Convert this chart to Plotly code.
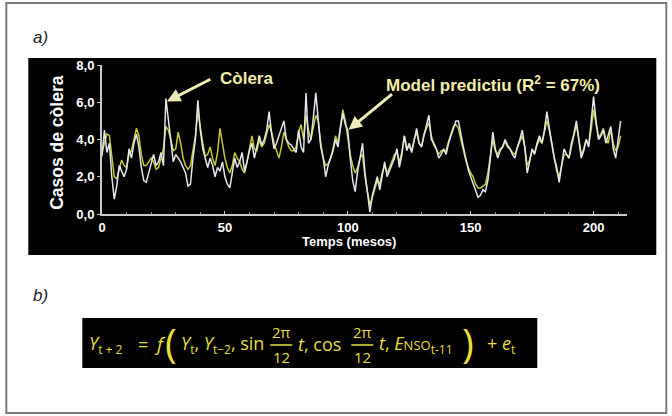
import plotly.graph_objects as go

months = list(range(0, 212))

observed = [
    3.1, 4.5, 3.3, 3.8, 2.0, 0.8, 1.5, 2.6, 2.3, 2.0,
    2.4, 3.5, 3.0, 3.8, 4.3, 3.6, 2.5, 1.8, 1.7, 2.2,
    2.6, 3.2, 2.6, 2.8, 3.3, 2.6, 6.2, 5.0, 4.0, 2.8,
    3.2, 3.0, 2.8, 2.5, 2.2, 1.5, 1.6, 3.0, 4.0, 6.1,
    4.5, 3.5, 3.0, 2.5, 3.0, 2.6, 2.0, 2.5, 2.3, 2.8,
    2.0, 1.6, 1.4, 2.2, 3.0, 2.5, 2.8, 3.3, 2.3, 2.8,
    3.4, 3.8, 3.0, 3.6, 4.2, 3.7, 4.0, 4.5, 5.5, 4.3,
    3.5, 3.8, 4.2, 4.6, 5.0, 4.0, 3.8, 3.7, 3.5, 3.3,
    4.5, 3.6, 3.3, 6.5, 3.8, 4.0, 5.2, 6.5, 5.0, 3.6,
    3.0, 2.0, 2.6, 3.0, 3.4, 4.0, 3.6, 4.6, 5.4, 4.8,
    4.5, 3.0, 1.8, 1.2, 2.3, 3.0, 3.8, 2.2, 1.0, 0.1,
    1.0, 1.5, 2.0, 1.3, 2.0, 2.8, 2.0, 2.3, 2.6, 3.0,
    3.5, 2.5, 3.2, 4.2, 3.4, 3.8, 3.3, 4.0, 4.6, 3.8,
    3.6, 4.2, 4.8, 5.3, 4.0, 3.8, 3.5, 3.0, 3.2, 3.5,
    3.2, 3.8, 4.2, 4.6, 5.0, 5.0, 4.2, 3.6, 3.0, 2.4,
    2.0, 1.6, 1.2, 0.9, 1.0, 1.3, 1.2, 1.8, 3.0, 4.4,
    3.5, 3.0, 3.4, 3.6, 4.0, 3.7, 3.5, 3.2, 3.0, 3.6,
    4.0, 4.5, 3.6, 2.2, 2.8, 3.5, 3.2, 3.8, 4.2, 3.8,
    4.5, 5.5, 4.6, 3.8, 3.0, 2.5, 1.7, 2.6, 3.5, 3.2,
    3.0, 3.8, 4.3, 5.0, 4.0, 3.0, 3.4, 4.0, 3.6, 4.8,
    6.3, 5.0, 4.0, 4.2, 4.5, 3.8, 4.2, 4.7, 3.5, 3.0,
    4.0, 5.0,
]

predicted = [
    3.3, 3.8, 4.3, 4.2, 3.0, 2.0, 1.9, 2.4, 2.9, 2.6,
    2.5, 3.2, 3.4, 4.0, 4.6, 4.2, 3.2, 2.6, 2.6, 2.8,
    3.0, 2.8, 2.4, 2.5, 3.0, 3.5, 4.7, 4.5, 4.0, 3.4,
    3.5, 4.4, 3.8, 3.0, 2.6, 2.4, 2.6, 3.3, 4.2, 5.5,
    4.6, 3.8, 3.1, 3.2, 3.6, 3.0, 2.6, 3.3, 4.6, 3.8,
    3.0, 2.5, 2.2, 2.6, 3.3, 3.0, 2.8, 2.4, 2.2, 2.8,
    3.6, 4.2, 3.5, 3.4, 4.0, 3.6, 3.8, 4.3, 4.8, 4.4,
    3.8, 3.4, 3.0, 3.6, 4.4, 4.0, 3.6, 3.4, 3.4, 3.6,
    4.4, 4.8, 4.0, 5.3, 4.5, 4.0, 4.6, 5.3, 5.0, 3.8,
    3.0, 2.6, 2.7, 3.0, 3.5, 4.2, 3.8, 4.6, 5.6, 5.0,
    4.0, 3.2, 2.6, 2.2, 2.5, 3.0, 3.2, 2.0, 1.2, 0.5,
    0.9, 1.4, 1.8, 1.6, 2.2, 2.6, 2.2, 2.5, 2.8, 3.2,
    3.3, 2.8, 3.3, 4.2, 3.6, 3.6, 3.4, 4.0, 4.4, 3.8,
    3.6, 4.3, 4.6, 4.9, 4.2, 3.7, 3.5, 3.2, 3.4, 3.4,
    3.4, 3.9, 4.3, 4.7, 4.8, 4.6, 4.0, 3.4, 2.9, 2.5,
    2.2, 2.0, 1.6, 1.4, 1.4, 1.5, 1.6, 2.2, 3.0, 4.0,
    3.4, 3.2, 3.5, 3.6, 3.9, 3.6, 3.5, 3.3, 3.2, 3.5,
    3.9, 4.2, 3.6, 2.6, 2.9, 3.4, 3.3, 3.7, 4.0, 3.8,
    4.4, 5.0, 4.5, 3.8, 3.0, 2.3, 2.0, 2.6, 3.2, 3.2,
    3.0, 3.6, 4.2, 4.8, 4.0, 3.2, 3.5, 4.0, 3.7, 4.5,
    5.6, 4.9, 4.1, 4.3, 4.6, 4.0, 3.8, 4.6, 3.8, 3.4,
    3.6, 4.2,
]

x_ticks = [0, 50, 100, 150, 200]
y_ticks = [0, 2, 4, 6, 8]
y_tick_labels = ["0,0", "2,0", "4,0", "6,0", "8,0"]

# ---- layout geometry (pixels) ----
W, H = 672, 416
PL, PR, PT, PB = 101.7, 626.7, 65.0, 214.0   # plot area


def px(xp):
    return (xp - PL) / (PR - PL)


def py(yp):
    return (PB - yp) / (PB - PT)


FONT = "Liberation Sans, Arial, Helvetica, sans-serif"
EQ_FONT = "Open Sans, Lato, sans-serif"
PALE = "#f2eeaa"
EQ_COL = "#e6df3c"

fig = go.Figure()
fig.add_trace(go.Scatter(x=months, y=predicted, mode="lines",
                         line=dict(color="#c5c832", width=1.5),
                         name="Model predictiu", hoverinfo="skip"))
fig.add_trace(go.Scatter(x=months, y=observed, mode="lines",
                         line=dict(color="#e4e6ee", width=1.5),
                         name="Còlera", hoverinfo="skip"))

shapes = [
    # outer frame
    dict(type="rect", xref="paper", yref="paper",
         x0=px(6), x1=px(666), y0=py(413), y1=py(3),
         line=dict(color="#7a7a7a", width=2), fillcolor="rgba(0,0,0,0)", layer="below"),
    # black chart panel
    dict(type="rect", xref="paper", yref="paper",
         x0=px(28), x1=px(656), y0=py(255), y1=py(58),
         line=dict(color="#000000", width=0), fillcolor="#000000", layer="below"),
    # equation panel
    dict(type="rect", xref="paper", yref="paper",
         x0=px(82), x1=px(537), y0=py(368), y1=py(318),
         line=dict(color="#000000", width=0), fillcolor="#000000", layer="below"),
]

annotations = []


def txt(text, x, y, size, color, family=FONT, xanchor="center", yanchor="middle", angle=0):
    annotations.append(dict(text=text, x=px(x), y=py(y), xref="paper", yref="paper",
                            showarrow=False, xanchor=xanchor, yanchor=yanchor,
                            textangle=angle,
                            font=dict(size=size, color=color, family=family)))


# panel labels
txt("<i>a)</i>", 31, 37, 17, "#222222", xanchor="left")
txt("<i>b)</i>", 31, 295, 17, "#222222", xanchor="left")

# axis titles
txt("<b>Casos de còlera</b>", 56.5, 142, 17.5, "#ffffff", angle=-90)
txt("<b>Temps (mesos)</b>", 349, 241, 13, "#ffffff")

# callouts
txt("<b>Còlera</b>", 246, 78, 17, PALE)
txt("<b>Model predictiu (R<sup>2</sup> = 67%)</b>", 493, 84, 17, PALE)

# arrows (text empty, tip at data point)
annotations.append(dict(x=26.4, y=6.04, xref="x", yref="y", text="", showarrow=True,
                        ax=45, ay=-23, arrowhead=2, arrowsize=0.9, arrowwidth=3,
                        arrowcolor="#ececb4"))
annotations.append(dict(x=100.3, y=4.52, xref="x", yref="y", text="", showarrow=True,
                        ax=45, ay=-37, arrowhead=2, arrowsize=0.9, arrowwidth=3,
                        arrowcolor="#ececb4"))

# equation pieces
EQ_Y = 344
EQ_S = 18
FR_S = 15
SUB = "<span style='font-size:12px'>"
txt(f"<i>Y</i><sub>{SUB}t + 2</span></sub>", 87, EQ_Y, EQ_S, EQ_COL, family=EQ_FONT, xanchor="left")
txt("=", 143, EQ_Y, EQ_S, EQ_COL, family=EQ_FONT)
txt("<i>f</i>", 160, EQ_Y, EQ_S + 1, EQ_COL, family=EQ_FONT)
txt("(", 171, EQ_Y - 2, 40, EQ_COL, family=EQ_FONT)
txt(f"<i>Y</i><sub>{SUB}t</span></sub>, <i>Y</i><sub>{SUB}t−2</span></sub>, sin", 179, EQ_Y, EQ_S,
    EQ_COL, family=EQ_FONT, xanchor="left")
txt("2π", 281, EQ_Y - 12, FR_S, EQ_COL, family=EQ_FONT)
txt("12", 281, EQ_Y + 13, FR_S, EQ_COL, family=EQ_FONT)
txt("<i>t</i>, cos", 296, EQ_Y, EQ_S, EQ_COL, family=EQ_FONT, xanchor="left")
txt("2π", 362, EQ_Y - 12, FR_S, EQ_COL, family=EQ_FONT)
txt("12", 362, EQ_Y + 13, FR_S, EQ_COL, family=EQ_FONT)
txt(f"<i>t</i>, <i>E</i><span style='font-size:13px'>NSO</span><sub>{SUB}t-11</span></sub>", 377,
    EQ_Y, EQ_S, EQ_COL, family=EQ_FONT, xanchor="left")
txt(")", 468, EQ_Y - 2, 40, EQ_COL, family=EQ_FONT)
txt(f"+ <i>e</i><sub>{SUB}t</span></sub>", 485, EQ_Y, EQ_S, EQ_COL, family=EQ_FONT, xanchor="left")

# fraction bars
for cx in (281, 362):
    shapes.append(dict(type="line", xref="paper", yref="paper",
                       x0=px(cx - 11), x1=px(cx + 11), y0=py(EQ_Y + 1), y1=py(EQ_Y + 1),
                       line=dict(color=EQ_COL, width=1.5)))

fig.update_layout(
    width=W, height=H,
    margin=dict(l=PL, r=W - PR, t=PT, b=H - PB, pad=0),
    paper_bgcolor="#ffffff",
    plot_bgcolor="#000000",
    showlegend=False,
    shapes=shapes,
    annotations=annotations,
    xaxis=dict(range=[0, 213.6], tickvals=x_ticks, ticktext=[f"<b>{v}</b>" for v in x_ticks],
               showgrid=False, zeroline=False, showline=True, linecolor="#c8c8c8", linewidth=2,
               ticks="inside", ticklen=3, tickcolor="#c8c8c8", tickwidth=1,
               tickfont=dict(size=13, color="#ffffff", family=FONT),
               minor=dict(dtick=10, ticks="inside", ticklen=2, tickcolor="#888888")),
    yaxis=dict(range=[0, 8], tickvals=y_ticks, ticktext=[f"<b>{t}</b>" for t in y_tick_labels],
               showgrid=False, zeroline=False, showline=True, linecolor="#c8c8c8", linewidth=2,
               ticks="outside", ticklen=3, tickcolor="#c8c8c8", tickwidth=1,
               tickfont=dict(size=13, color="#ffffff", family=FONT)),
)

fig.write_html("out.html", config={"displayModeBar": False},
               post_script="document.body.style.margin='0px';")
